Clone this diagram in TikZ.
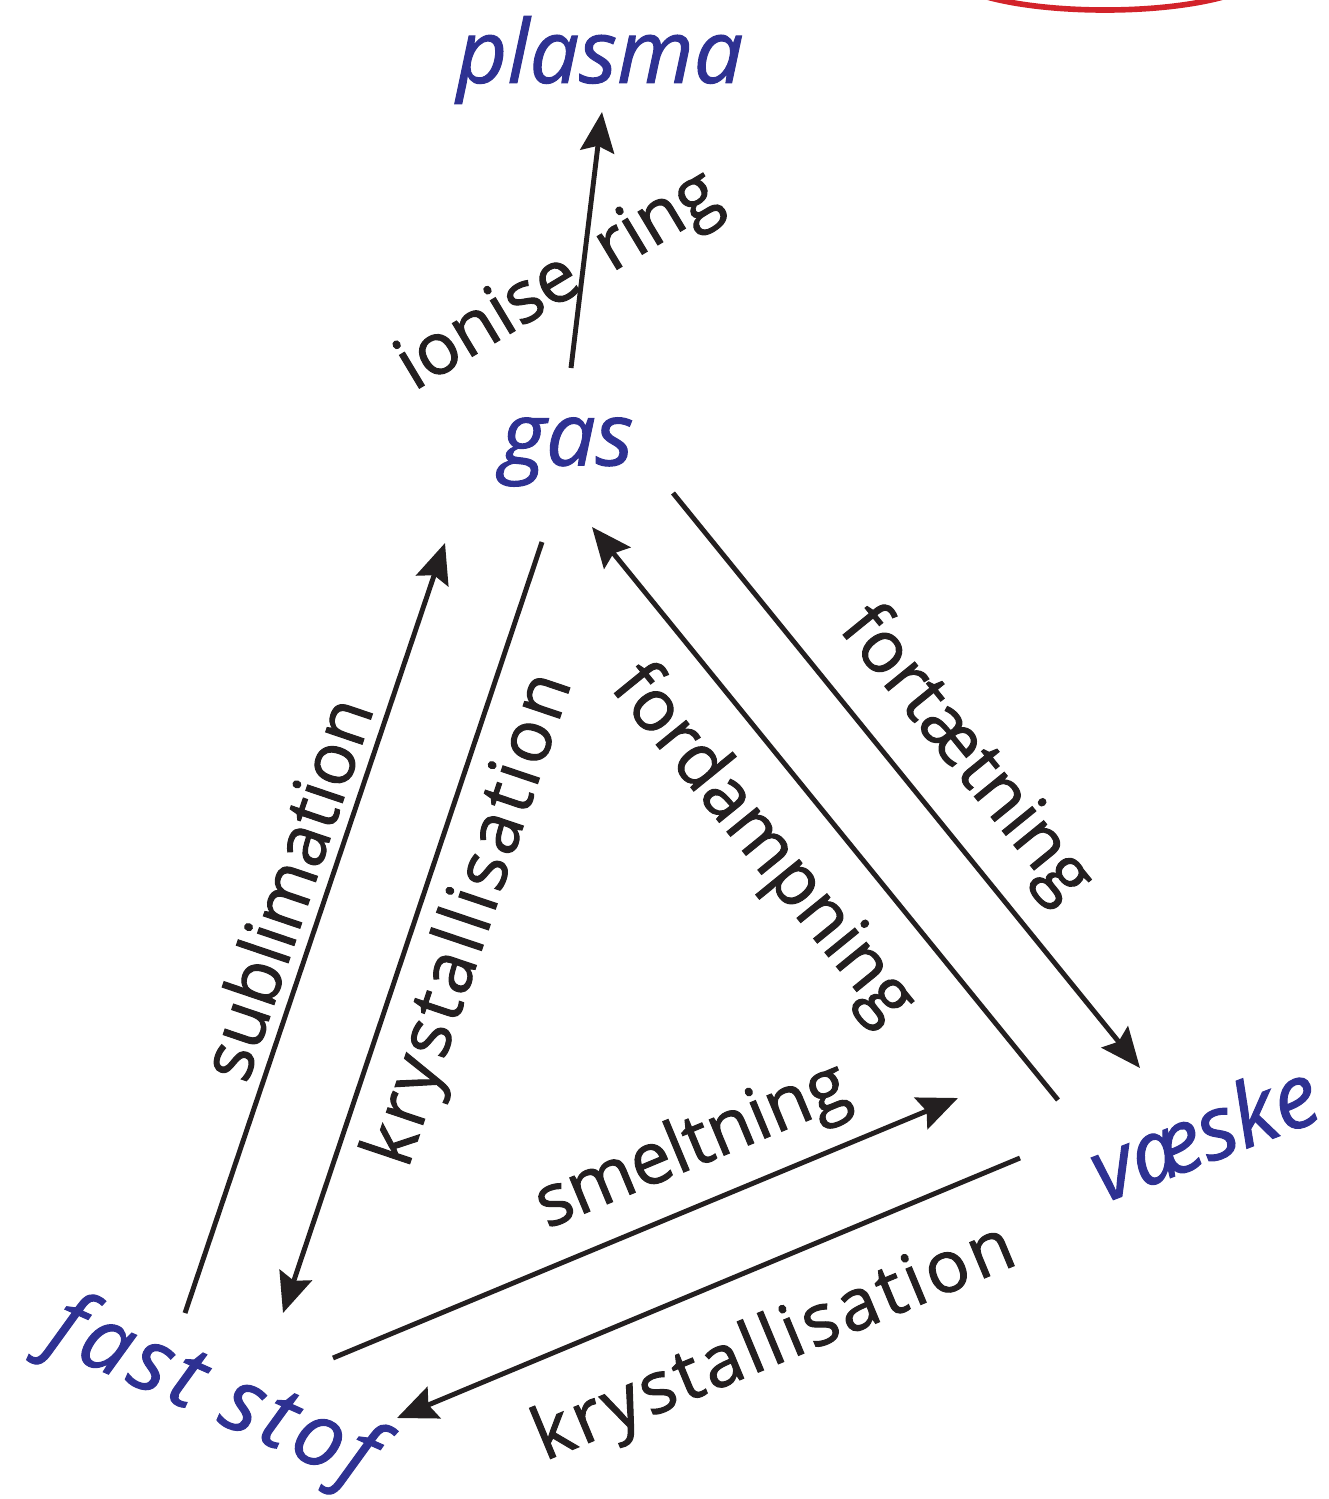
\documentclass[tikz,border=0pt]{standalone}
\usepackage{fontspec}
\setmainfont{Open Sans}[FakeBold=1.2]
\newfontfamily\inkfont{Open Sans}[FakeBold=1.4]
\usetikzlibrary{arrows.meta}

\definecolor{stateblue}{RGB}{46,49,146}
\definecolor{inkblack}{RGB}{35,31,32}
\definecolor{ringred}{RGB}{210,35,42}

\begin{document}
\begin{tikzpicture}[
  x=0.1mm, y=-0.1mm,
  state/.style={text=stateblue,font=\fontsize{25}{30}\selectfont\itshape,inner sep=0pt},
  lbl/.style={text=inkblack,font=\inkfont\fontsize{20.5}{24}\selectfont,inner sep=0pt},
  arr/.style={-{Stealth[length=4mm,width=3.4mm,inset=0.6mm]},line width=1.4pt,draw=inkblack}
]
  \useasboundingbox (0,0) rectangle (1329,1499);

  % red mark, cut off at the top edge
  \draw[ringred, line width=1.6pt] (1105,-30) ellipse [x radius=160, y radius=40];

  % states
  \node[state] (plasma) at (600,60) {plasma};
  \node[state] (gas) at (567,452) {gas};
  \node[state, rotate=21] (vaeske) at (1203,1130) {væske};
  \node[state, rotate=-24] (fast) at (212,1395) {\addfontfeature{LetterSpace=6}fast\kern8pt stof};

  % arrow ends
  \coordinate (gp1) at (571,368);   \coordinate (gp2) at (602,112);
  \coordinate (fg1) at (185,1313);  \coordinate (fg2) at (445,543);
  \coordinate (gf1) at (542,542);   \coordinate (gf2) at (283,1313);
  \coordinate (gv1) at (673,493);   \coordinate (gv2) at (1140,1068);
  \coordinate (vg1) at (1058,1100); \coordinate (vg2) at (592,527);
  \coordinate (fv1) at (333,1358);  \coordinate (fv2) at (958,1098);
  \coordinate (vf1) at (1020,1158); \coordinate (vf2) at (397,1418);

  \draw[arr] (gp1) -- (gp2);
  \draw[arr] (fg1) -- (fg2);
  \draw[arr] (gf1) -- (gf2);
  \draw[arr] (gv1) -- (gv2);
  \draw[arr] (vg1) -- (vg2);
  \draw[arr] (fv1) -- (fv2);
  \draw[arr] (vf1) -- (vf2);

  % transitions
  \node[lbl, rotate=31] (ion) at (560,283) {ionise\kern9pt ring};
  \node[lbl, rotate=71.3] (sub) at (285,888) {sublimation};
  \node[lbl, rotate=71.4] (kry1) at (472,920) {\addfontfeature{LetterSpace=5}krystallisation};
  \node[lbl, rotate=-50.9] (fort) at (965,755) {fortætning};
  \node[lbl, rotate=-50.9] (ford) at (762,845) {fordampning};
  \node[lbl, rotate=22.6] (smelt) at (693,1148) {smeltning};
  \node[lbl, rotate=22.6] (kry2) at (775,1345) {\addfontfeature{LetterSpace=5}krystallisation};
\end{tikzpicture}
\end{document}
